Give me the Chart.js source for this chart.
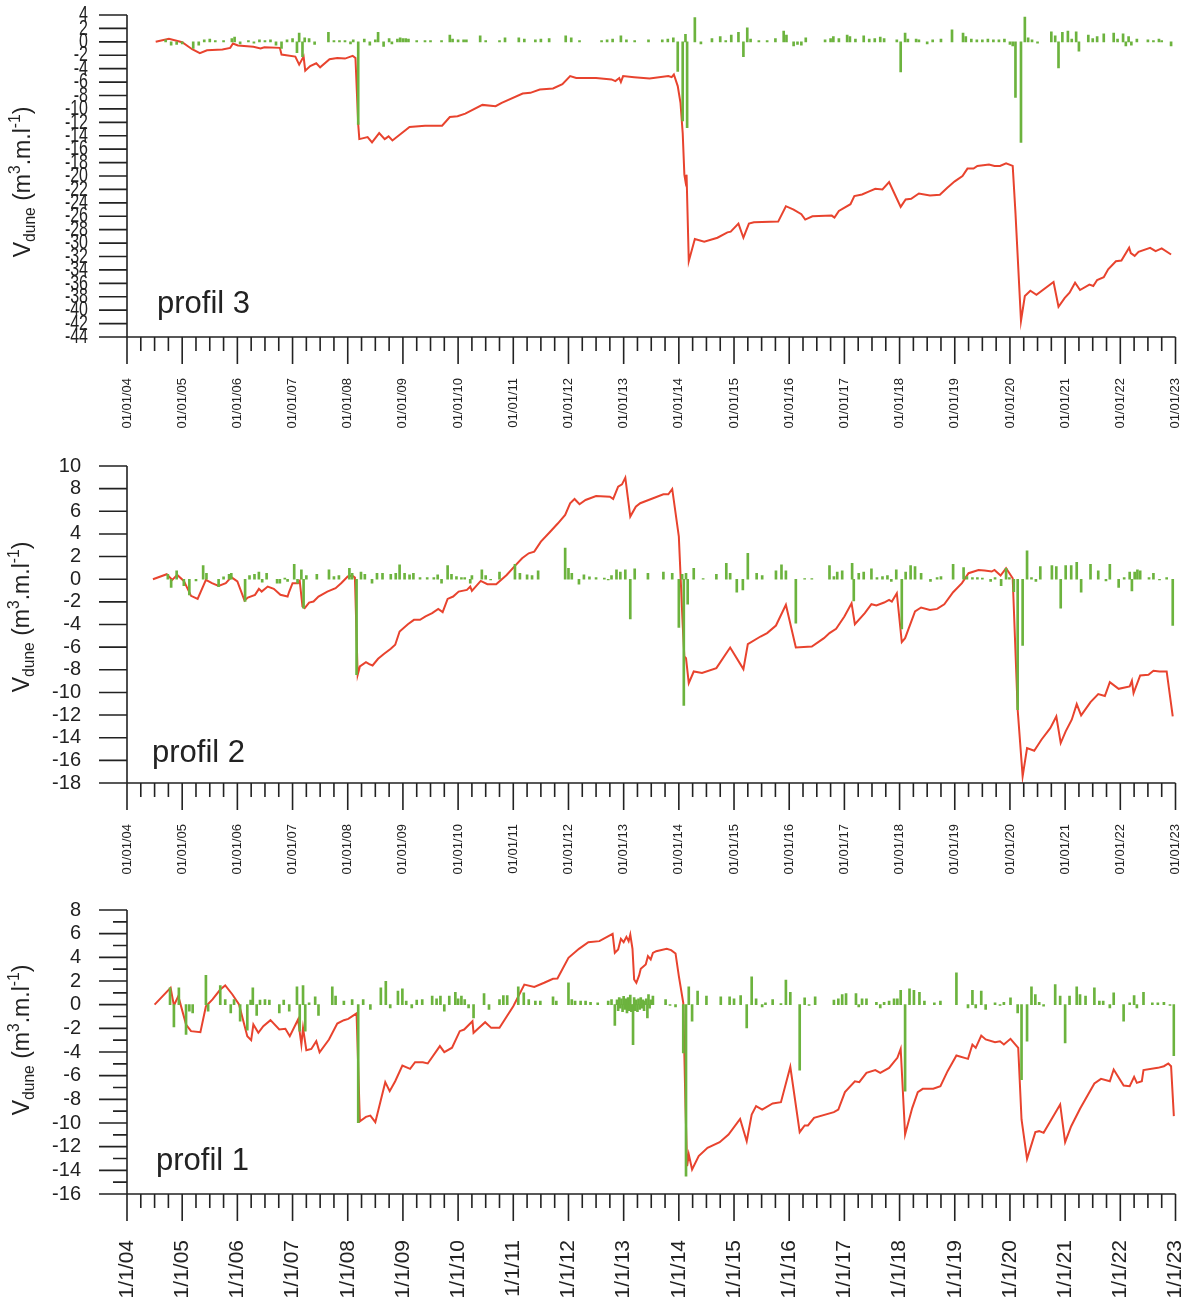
<!DOCTYPE html>
<html><head><meta charset="utf-8">
<script src="https://cdn.jsdelivr.net/npm/chart.js@4.4.1/dist/chart.umd.min.js"></script>
<style>
html,body{margin:0;padding:0;background:#fff;}
#wrap{position:relative;width:1192px;height:1304px;overflow:hidden;background:#fff;}
canvas{position:absolute;left:0;}
</style></head><body>
<div id="wrap">
<canvas id="c3" width="1192" height="440" style="top:0px"></canvas>
<canvas id="c2" width="1192" height="440" style="top:445px"></canvas>
<canvas id="c1" width="1192" height="414" style="top:890px"></canvas>
</div>
<script>
// ---------- axis ticks / labels ----------
const tickYears = [2004,2005,2006,2007,2008,2009,2010,2011,2012,2013,2014,2015,2016,2017,2018,2019,2020,2021,2022,2023];
const xLabelsLong = ['01/01/04','01/01/05','01/01/06','01/01/07','01/01/08','01/01/09','01/01/10','01/01/11','01/01/12','01/01/13','01/01/14','01/01/15','01/01/16','01/01/17','01/01/18','01/01/19','01/01/20','01/01/21','01/01/22','01/01/23'];
const xLabelsShort = ['1/1/04','1/1/05','1/1/06','1/1/07','1/1/08','1/1/09','1/1/10','1/1/11','1/1/12','1/1/13','1/1/14','1/1/15','1/1/16','1/1/17','1/1/18','1/1/19','1/1/20','1/1/21','1/1/22','1/1/23'];
const quarterOffsets = [0.25,0.5,0.75];
const yTicks3 = [4,2,0,-2,-4,-6,-8,-10,-12,-14,-16,-18,-20,-22,-24,-26,-28,-30,-32,-34,-36,-38,-40,-42,-44];
const yTicks2 = [10,8,6,4,2,0,-2,-4,-6,-8,-10,-12,-14,-16,-18];
const yTicks1 = [8,6,4,2,0,-2,-4,-6,-8,-10,-12,-14,-16];
const yMinor1 = [7,5,3,1,-1,-3,-5,-7,-9,-11,-13,-15];
const panelNames = ['profil 3','profil 2','profil 1'];

// ---------- profil 3 : cumulative dune volume [date (decimal year), m3/m] ----------
const p3Volume = [[2004.52,0],[2004.76,0.45],[2005.00,-0.05],[2005.18,-1.1],[2005.32,-1.7],[2005.45,-1.25],[2005.73,-1.15],[2005.87,-0.9],[2005.92,-0.25],[2006.01,-0.55],[2006.29,-0.75],[2006.42,-1.0],[2006.49,-0.8],[2006.77,-0.9],[2006.80,-1.9],[2007.05,-2.2],[2007.12,-3.4],[2007.20,-2.2],[2007.23,-4.3],[2007.32,-3.6],[2007.43,-3.2],[2007.50,-3.8],[2007.67,-2.6],[2007.81,-2.4],[2007.95,-2.5],[2008.09,-2.1],[2008.14,-2.4],[2008.19,-12.3],[2008.21,-14.5],[2008.36,-14.2],[2008.44,-15.0],[2008.57,-13.6],[2008.67,-14.5],[2008.74,-14.1],[2008.81,-14.7],[2009.12,-12.7],[2009.40,-12.5],[2009.71,-12.5],[2009.85,-11.2],[2009.99,-11.1],[2010.13,-10.7],[2010.44,-9.4],[2010.68,-9.6],[2010.79,-9.1],[2011.17,-7.7],[2011.31,-7.6],[2011.48,-7.1],[2011.72,-6.95],[2011.89,-6.3],[2012.03,-5.1],[2012.14,-5.4],[2012.50,-5.4],[2012.78,-5.6],[2012.85,-5.85],[2012.92,-5.4],[2012.95,-6.0],[2012.99,-5.1],[2013.19,-5.27],[2013.47,-5.46],[2013.81,-5.1],[2013.87,-5.27],[2013.91,-4.87],[2013.98,-6.6],[2014.03,-9.1],[2014.07,-13.6],[2014.10,-19.8],[2014.12,-20.8],[2014.14,-19.8],[2014.18,-32.7],[2014.29,-29.4],[2014.46,-29.8],[2014.70,-29.2],[2014.88,-28.4],[2014.94,-28.3],[2015.08,-27.1],[2015.17,-29.2],[2015.27,-27.1],[2015.36,-26.9],[2015.80,-26.8],[2015.94,-24.5],[2016.08,-25.0],[2016.22,-25.7],[2016.29,-26.5],[2016.42,-26.0],[2016.77,-25.9],[2016.82,-26.2],[2016.90,-25.2],[2017.11,-24.2],[2017.18,-23.0],[2017.32,-22.75],[2017.45,-22.3],[2017.56,-21.9],[2017.69,-22.0],[2017.81,-20.9],[2017.90,-22.5],[2018.02,-24.6],[2018.11,-23.5],[2018.21,-23.4],[2018.35,-22.6],[2018.55,-22.9],[2018.73,-22.8],[2018.86,-21.8],[2019.00,-20.8],[2019.14,-20.0],[2019.23,-18.9],[2019.34,-18.9],[2019.41,-18.5],[2019.62,-18.3],[2019.72,-18.5],[2019.82,-18.5],[2019.93,-18.1],[2020.05,-18.5],[2020.10,-25.5],[2020.20,-41.6],[2020.27,-37.9],[2020.37,-37.1],[2020.48,-37.7],[2020.79,-35.8],[2020.88,-39.5],[2020.99,-38.2],[2021.08,-37.4],[2021.18,-35.9],[2021.27,-37.0],[2021.44,-36.2],[2021.51,-36.4],[2021.58,-35.5],[2021.70,-35.1],[2021.78,-33.9],[2021.92,-32.7],[2022.02,-32.6],[2022.16,-30.7],[2022.19,-31.5],[2022.26,-31.9],[2022.33,-31.3],[2022.54,-30.7],[2022.64,-31.2],[2022.75,-30.8],[2022.92,-31.7]];
// profil 3 : volume change between surveys
const p3Change = [[2004.70,0.3],[2004.80,-0.5],[2004.90,-0.4],[2005.00,-0.3],[2005.20,-1.0],[2005.30,-0.5],[2005.40,0.3],[2005.50,0.4],[2005.60,0.2],[2005.75,0.2],[2005.90,0.5],[2005.95,0.7],[2006.05,-0.3],[2006.20,0.2],[2006.30,-0.2],[2006.40,0.3],[2006.50,0.2],[2006.60,0.3],[2006.70,-0.5],[2006.80,-1.0],[2006.90,0.3],[2007.00,0.5],[2007.08,-1.6],[2007.12,1.3],[2007.18,-2.2],[2007.22,0.6],[2007.30,0.5],[2007.40,-0.4],[2007.65,1.4],[2007.75,0.2],[2007.85,0.2],[2007.95,0.2],[2008.05,-0.3],[2008.10,0.3],[2008.19,-12.3],[2008.30,0.4],[2008.40,-0.5],[2008.50,0.3],[2008.55,1.4],[2008.65,-0.7],[2008.75,0.5],[2008.80,-0.3],[2008.90,0.4],[2008.95,0.6],[2009.00,0.5],[2009.05,0.5],[2009.10,0.4],[2009.25,0.2],[2009.40,0.2],[2009.50,0.2],[2009.70,0.2],[2009.85,1.0],[2009.90,0.4],[2010.00,0.3],[2010.10,0.3],[2010.15,0.3],[2010.40,0.9],[2010.50,0.2],[2010.75,0.2],[2010.85,0.6],[2011.10,0.6],[2011.20,0.4],[2011.40,0.3],[2011.50,0.4],[2011.65,0.5],[2011.95,0.9],[2012.05,0.6],[2012.20,0.2],[2012.60,0.2],[2012.70,0.3],[2012.80,0.4],[2012.95,0.9],[2013.05,0.3],[2013.20,0.2],[2013.45,0.3],[2013.70,0.3],[2013.80,0.4],[2013.90,0.6],[2013.98,-4.4],[2014.07,-11.8],[2014.12,1.1],[2014.15,-12.8],[2014.29,3.6],[2014.40,-0.3],[2014.60,0.5],[2014.75,0.8],[2014.85,0.2],[2014.95,1.0],[2015.08,1.4],[2015.17,-2.2],[2015.24,2.1],[2015.30,0.4],[2015.45,0.2],[2015.60,0.2],[2015.75,0.5],[2015.90,1.6],[2015.95,1.0],[2016.08,-0.6],[2016.15,-0.4],[2016.22,-0.5],[2016.30,0.6],[2016.65,0.3],[2016.75,0.5],[2016.80,0.8],[2016.90,0.5],[2017.05,1.0],[2017.10,0.8],[2017.20,0.4],[2017.35,0.9],[2017.45,0.4],[2017.55,0.5],[2017.65,0.7],[2017.72,0.5],[2017.95,0.3],[2018.02,-4.5],[2018.10,1.3],[2018.15,0.4],[2018.30,0.4],[2018.35,0.3],[2018.50,-0.3],[2018.60,0.3],[2018.75,0.4],[2018.95,1.8],[2019.15,1.3],[2019.20,0.8],[2019.30,0.4],[2019.40,0.3],[2019.50,0.3],[2019.60,0.4],[2019.70,0.3],[2019.80,0.3],[2019.90,0.4],[2020.00,-0.4],[2020.05,-0.6],[2020.10,-8.3],[2020.20,-15.0],[2020.27,3.7],[2020.33,0.6],[2020.40,0.3],[2020.50,-0.2],[2020.75,1.5],[2020.82,0.9],[2020.88,-3.9],[2020.95,1.4],[2021.05,1.6],[2021.12,0.4],[2021.20,1.5],[2021.25,-1.4],[2021.42,1.0],[2021.50,0.5],[2021.58,0.8],[2021.70,1.2],[2021.88,1.3],[2021.95,0.4],[2022.05,1.2],[2022.10,-0.6],[2022.15,0.8],[2022.20,-0.5],[2022.30,0.4],[2022.50,0.3],[2022.60,0.2],[2022.70,0.4],[2022.75,0.2],[2022.92,-0.6]];

// ---------- profil 2 ----------
const p2Volume = [[2004.47,0],[2004.72,0.44],[2004.82,-0.06],[2004.91,0.38],[2005.03,-0.15],[2005.16,-1.47],[2005.28,-1.74],[2005.43,-0.06],[2005.54,-0.35],[2005.66,-0.59],[2005.79,-0.35],[2005.89,0.18],[2006.00,-0.2],[2006.13,-1.88],[2006.19,-1.62],[2006.32,-1.38],[2006.39,-0.85],[2006.44,-1.09],[2006.55,-0.65],[2006.66,-0.85],[2006.78,-1.38],[2006.91,-1.53],[2006.94,-1.09],[2007.00,-0.35],[2007.10,-0.35],[2007.13,-0.15],[2007.18,-2.41],[2007.22,-2.56],[2007.30,-2.06],[2007.38,-1.97],[2007.47,-1.53],[2007.63,-1.09],[2007.78,-0.79],[2007.88,-0.35],[2008.00,0.24],[2008.08,0.32],[2008.13,0.15],[2008.18,-8.44],[2008.22,-7.7],[2008.33,-7.32],[2008.39,-7.5],[2008.45,-7.62],[2008.55,-7.03],[2008.66,-6.59],[2008.78,-6.15],[2008.86,-5.79],[2008.94,-4.62],[2009.09,-3.97],[2009.20,-3.59],[2009.31,-3.59],[2009.41,-3.29],[2009.53,-3.0],[2009.64,-2.62],[2009.72,-2.91],[2009.81,-1.74],[2009.91,-1.53],[2010.01,-1.09],[2010.16,-0.94],[2010.22,-0.65],[2010.25,-1.03],[2010.41,-0.15],[2010.53,-0.44],[2010.69,-0.44],[2010.88,0.38],[2011.03,1.18],[2011.16,1.85],[2011.28,2.29],[2011.38,2.44],[2011.50,3.32],[2011.66,4.15],[2011.81,4.94],[2011.94,5.68],[2012.03,6.71],[2012.11,7.09],[2012.20,6.62],[2012.31,7.0],[2012.50,7.35],[2012.75,7.29],[2012.81,7.09],[2012.90,8.18],[2012.97,8.38],[2013.03,8.97],[2013.12,5.53],[2013.22,6.41],[2013.30,6.71],[2013.72,7.5],[2013.81,7.5],[2013.88,7.97],[2014.00,3.76],[2014.07,-4.03],[2014.10,-6.82],[2014.13,-6.97],[2014.18,-9.18],[2014.27,-8.15],[2014.42,-8.29],[2014.68,-7.85],[2014.93,-6.03],[2015.17,-7.94],[2015.25,-5.74],[2015.48,-5.06],[2015.60,-4.76],[2015.76,-4.09],[2015.94,-2.26],[2016.12,-6.03],[2016.41,-5.94],[2016.63,-5.21],[2016.73,-4.76],[2016.85,-4.38],[2017.00,-3.29],[2017.13,-2.12],[2017.19,-3.97],[2017.37,-3.0],[2017.49,-2.21],[2017.58,-2.32],[2017.72,-2.06],[2017.81,-1.82],[2017.86,-1.97],[2017.95,-1.24],[2018.04,-5.56],[2018.10,-5.21],[2018.28,-2.85],[2018.39,-2.5],[2018.55,-2.71],[2018.68,-2.62],[2018.81,-2.21],[2018.97,-1.15],[2019.13,-0.35],[2019.25,0.53],[2019.43,0.82],[2019.54,0.76],[2019.67,0.68],[2019.72,0.82],[2019.83,0.32],[2019.93,0.97],[2020.05,0.09],[2020.14,-11.53],[2020.23,-17.41],[2020.31,-14.91],[2020.44,-15.15],[2020.57,-14.18],[2020.73,-13.15],[2020.84,-12.12],[2020.92,-14.47],[2021.01,-13.44],[2021.12,-12.41],[2021.21,-11.03],[2021.29,-12.03],[2021.46,-10.85],[2021.60,-10.15],[2021.72,-10.32],[2021.81,-9.09],[2021.97,-9.68],[2022.17,-9.47],[2022.21,-8.97],[2022.24,-10.06],[2022.36,-8.5],[2022.51,-8.44],[2022.60,-8.09],[2022.71,-8.15],[2022.84,-8.15],[2022.95,-12.12]];
const p2Change = [[2004.74,0.44],[2004.80,-0.73],[2004.90,0.73],[2005.03,-0.56],[2005.13,-1.38],[2005.25,-0.15],[2005.38,1.21],[2005.44,0.53],[2005.66,-0.65],[2005.75,0.2],[2005.85,0.44],[2005.89,0.53],[2006.14,-1.97],[2006.22,0.32],[2006.31,0.44],[2006.39,0.62],[2006.45,-0.26],[2006.53,0.53],[2006.72,-0.35],[2006.77,-0.35],[2006.86,0.1],[2006.91,-0.2],[2007.03,1.32],[2007.09,-0.35],[2007.16,0.82],[2007.20,-2.56],[2007.25,0.32],[2007.44,0.44],[2007.66,0.82],[2007.75,0.24],[2007.84,0.32],[2008.03,0.97],[2008.08,0.53],[2008.16,-8.44],[2008.24,0.62],[2008.31,0.44],[2008.44,-0.35],[2008.53,0.53],[2008.63,0.53],[2008.78,0.44],[2008.87,0.53],[2008.94,1.26],[2009.03,0.53],[2009.12,0.38],[2009.19,0.53],[2009.31,0.15],[2009.44,0.15],[2009.56,0.15],[2009.63,0.38],[2009.70,-0.35],[2009.81,1.21],[2009.88,0.44],[2009.97,0.24],[2010.06,0.15],[2010.12,0.15],[2010.22,-0.35],[2010.25,0.32],[2010.43,0.82],[2010.50,0.32],[2010.59,-0.06],[2010.75,0.62],[2011.03,1.32],[2011.12,0.53],[2011.25,0.38],[2011.34,0.32],[2011.45,0.73],[2011.94,2.74],[2012.00,0.97],[2012.06,0.53],[2012.19,-0.44],[2012.28,0.38],[2012.38,0.2],[2012.50,0.15],[2012.65,0.1],[2012.72,-0.06],[2012.78,0.32],[2012.87,0.82],[2012.94,0.62],[2013.03,0.82],[2013.12,-3.5],[2013.20,0.91],[2013.44,0.53],[2013.72,0.62],[2013.88,0.53],[2014.00,-4.26],[2014.06,0.44],[2014.09,-11.15],[2014.13,0.53],[2014.16,-2.21],[2014.27,0.97],[2014.44,0.05],[2014.68,0.44],[2014.86,1.41],[2014.93,0.53],[2015.05,-1.15],[2015.16,-0.94],[2015.25,2.29],[2015.41,0.53],[2015.51,0.32],[2015.76,0.73],[2015.86,1.26],[2015.94,0.73],[2016.12,-3.88],[2016.28,0.05],[2016.41,0.05],[2016.73,1.21],[2016.81,0.24],[2016.87,0.62],[2016.96,0.73],[2017.14,1.41],[2017.17,-1.91],[2017.26,0.53],[2017.35,0.62],[2017.49,0.91],[2017.59,0.15],[2017.69,0.24],[2017.78,0.32],[2017.85,-0.2],[2017.94,0.82],[2018.04,-4.38],[2018.11,0.62],[2018.20,1.21],[2018.28,1.12],[2018.39,0.53],[2018.56,-0.2],[2018.68,0.15],[2018.75,0.24],[2018.97,1.32],[2019.16,1.03],[2019.22,0.24],[2019.32,0.15],[2019.41,0.15],[2019.50,0.1],[2019.65,-0.2],[2019.73,0.15],[2019.84,-0.56],[2019.93,0.97],[2019.99,0.15],[2020.07,-1.09],[2020.14,-11.53],[2020.23,-5.85],[2020.31,2.5],[2020.39,0.15],[2020.47,-0.2],[2020.55,1.12],[2020.76,1.21],[2020.84,1.12],[2020.92,-2.56],[2021.01,1.21],[2021.11,1.21],[2021.21,1.5],[2021.29,-1.15],[2021.46,1.32],[2021.60,0.73],[2021.74,-0.15],[2021.81,1.32],[2021.97,-0.73],[2022.07,0.15],[2022.17,0.62],[2022.21,-1.03],[2022.26,0.62],[2022.31,0.82],[2022.36,0.73],[2022.52,0.15],[2022.60,0.53],[2022.71,-0.06],[2022.84,0.15],[2022.95,-4.09]];

// ---------- profil 1 ----------
const p1Volume = [[2004.50,0],[2004.79,1.42],[2004.85,-0.07],[2004.93,0.72],[2005.07,-1.68],[2005.16,-2.24],[2005.33,-2.33],[2005.43,-0.13],[2005.55,0.44],[2005.69,1.28],[2005.78,1.62],[2005.91,0.86],[2006.03,0.02],[2006.18,-2.66],[2006.25,-3.0],[2006.29,-1.68],[2006.38,-2.38],[2006.47,-1.82],[2006.60,-1.31],[2006.76,-2.1],[2006.87,-2.04],[2006.95,-2.66],[2007.10,-1.25],[2007.16,-3.37],[2007.19,-1.96],[2007.25,-3.85],[2007.34,-3.74],[2007.43,-3.09],[2007.49,-4.02],[2007.66,-2.95],[2007.81,-1.6],[2007.93,-1.31],[2008.01,-1.2],[2008.16,-0.74],[2008.22,-9.85],[2008.33,-9.48],[2008.41,-9.37],[2008.50,-9.93],[2008.68,-6.55],[2008.76,-7.31],[2008.86,-6.47],[2008.99,-5.14],[2009.13,-5.42],[2009.22,-4.86],[2009.36,-4.86],[2009.45,-4.97],[2009.67,-3.5],[2009.75,-4.01],[2009.89,-3.64],[2010.03,-2.24],[2010.11,-2.1],[2010.26,-1.4],[2010.28,-2.38],[2010.38,-1.96],[2010.49,-1.48],[2010.60,-1.96],[2010.75,-1.96],[2011.00,-0.13],[2011.20,1.7],[2011.38,1.5],[2011.56,1.85],[2011.72,2.19],[2011.80,2.21],[2012.00,3.96],[2012.19,4.72],[2012.36,5.28],[2012.56,5.37],[2012.80,5.99],[2012.84,4.38],[2012.90,4.66],[2012.95,5.56],[2013.00,5.28],[2013.05,5.73],[2013.09,5.37],[2013.12,5.93],[2013.16,4.72],[2013.19,2.13],[2013.23,1.85],[2013.28,2.47],[2013.31,3.03],[2013.40,3.4],[2013.44,4.1],[2013.49,3.82],[2013.53,4.38],[2013.59,4.52],[2013.78,4.72],[2013.86,4.61],[2013.94,4.33],[2014.00,2.41],[2014.08,0.16],[2014.12,-8.57],[2014.15,-13.65],[2014.18,-12.66],[2014.24,-13.93],[2014.36,-12.8],[2014.52,-12.1],[2014.74,-11.62],[2014.90,-10.97],[2015.11,-9.65],[2015.23,-11.54],[2015.32,-9.28],[2015.40,-8.57],[2015.51,-8.86],[2015.70,-8.35],[2015.85,-8.24],[2016.02,-5.25],[2016.19,-10.77],[2016.28,-10.21],[2016.34,-10.21],[2016.45,-9.56],[2016.81,-9.08],[2016.89,-8.86],[2017.01,-7.39],[2017.19,-6.47],[2017.27,-6.55],[2017.40,-5.76],[2017.56,-5.53],[2017.65,-5.76],[2017.81,-5.34],[2017.91,-4.78],[2017.96,-4.49],[2018.02,-3.73],[2018.10,-10.97],[2018.23,-8.72],[2018.33,-7.39],[2018.42,-7.11],[2018.61,-7.11],[2018.74,-6.89],[2018.87,-5.62],[2019.03,-4.3],[2019.24,-4.58],[2019.32,-3.37],[2019.38,-3.65],[2019.48,-2.61],[2019.56,-2.94],[2019.73,-3.17],[2019.82,-3.09],[2019.89,-3.37],[2020.01,-2.89],[2020.15,-3.65],[2020.21,-9.7],[2020.31,-13.03],[2020.46,-10.77],[2020.53,-10.69],[2020.61,-10.83],[2020.91,-8.43],[2021.00,-11.62],[2021.11,-10.27],[2021.27,-8.8],[2021.53,-6.66],[2021.65,-6.27],[2021.81,-6.47],[2021.88,-5.48],[2022.06,-6.83],[2022.17,-6.89],[2022.25,-6.1],[2022.30,-6.61],[2022.39,-6.47],[2022.42,-5.53],[2022.68,-5.34],[2022.79,-5.2],[2022.87,-4.97],[2022.92,-5.2],[2022.97,-9.42]];
const p1Change = [[2004.78,1.42],[2004.85,-1.88],[2004.94,1.42],[2005.07,-2.52],[2005.13,-0.55],[2005.19,-0.69],[2005.43,2.47],[2005.47,-0.55],[2005.69,1.62],[2005.78,0.44],[2005.88,-0.69],[2005.94,0.44],[2006.05,-1.39],[2006.18,-2.15],[2006.24,0.38],[2006.28,1.42],[2006.35,-0.91],[2006.41,0.38],[2006.50,0.44],[2006.58,0.38],[2006.76,-0.69],[2006.84,0.38],[2006.94,-0.55],[2007.08,1.5],[2007.13,-2.24],[2007.19,1.62],[2007.23,-2.24],[2007.30,0.16],[2007.41,0.66],[2007.47,-0.91],[2007.72,1.5],[2007.78,0.72],[2007.93,0.3],[2008.08,0.44],[2008.19,-9.98],[2008.28,0.44],[2008.41,-0.41],[2008.60,1.42],[2008.69,1.98],[2008.77,-0.27],[2008.91,1.14],[2008.99,1.33],[2009.06,0.3],[2009.16,-0.27],[2009.25,0.38],[2009.35,0.44],[2009.53,0.72],[2009.61,0.5],[2009.68,0.72],[2009.75,-0.55],[2009.84,0.72],[2009.95,1.05],[2010.00,0.5],[2010.06,0.72],[2010.12,0.44],[2010.19,-0.27],[2010.28,-1.11],[2010.47,0.94],[2010.56,-0.41],[2010.75,0.44],[2010.82,0.77],[2010.89,0.77],[2011.09,1.5],[2011.19,1.0],[2011.28,0.44],[2011.40,0.3],[2011.49,0.3],[2011.72,0.66],[2011.78,0.3],[2012.00,1.84],[2012.06,0.44],[2012.12,0.3],[2012.22,0.3],[2012.31,0.3],[2012.40,0.2],[2012.53,0.16],[2012.72,0.3],[2012.78,0.44],[2012.84,-1.76],[2012.88,0.4],[2012.90,-0.5],[2012.92,0.6],[2012.94,-0.3],[2012.96,0.5],[2012.98,-0.6],[2013.00,0.7],[2013.02,-0.4],[2013.04,0.5],[2013.06,-0.7],[2013.08,0.6],[2013.10,-0.5],[2013.12,0.8],[2013.14,-0.6],[2013.17,-3.37],[2013.19,0.6],[2013.21,-0.5],[2013.23,0.4],[2013.25,-0.6],[2013.27,0.5],[2013.29,-0.4],[2013.31,0.6],[2013.33,-0.3],[2013.35,0.4],[2013.37,-0.5],[2013.39,0.3],[2013.41,0.5],[2013.43,-1.11],[2013.45,0.86],[2013.47,-0.3],[2013.49,0.4],[2013.53,0.72],[2013.76,0.44],[2013.84,-0.07],[2013.94,-0.18],[2014.08,-4.07],[2014.13,-14.5],[2014.18,1.5],[2014.24,-1.39],[2014.34,1.14],[2014.50,0.72],[2014.76,0.66],[2014.92,0.66],[2015.00,0.5],[2015.12,0.77],[2015.23,-1.96],[2015.32,2.35],[2015.40,0.5],[2015.51,-0.18],[2015.57,0.16],[2015.70,0.44],[2015.85,0.1],[2015.94,2.07],[2016.02,1.05],[2016.19,-5.53],[2016.28,0.58],[2016.36,-0.07],[2016.47,0.66],[2016.81,0.38],[2016.89,0.5],[2016.96,0.86],[2017.03,0.94],[2017.21,0.94],[2017.26,-0.18],[2017.32,0.5],[2017.40,0.5],[2017.58,0.2],[2017.65,-0.27],[2017.72,0.2],[2017.81,0.3],[2017.90,0.5],[2017.96,0.5],[2018.02,1.22],[2018.10,-7.31],[2018.18,1.33],[2018.26,1.22],[2018.36,1.05],[2018.45,0.3],[2018.63,0.16],[2018.74,0.3],[2019.03,2.69],[2019.24,-0.27],[2019.32,1.22],[2019.38,-0.27],[2019.48,1.14],[2019.56,-0.41],[2019.73,0.16],[2019.82,-0.07],[2019.89,0.2],[2020.01,0.58],[2020.14,-0.69],[2020.21,-6.33],[2020.31,-3.09],[2020.39,1.5],[2020.46,0.86],[2020.53,0.2],[2020.61,-0.12],[2020.82,1.7],[2020.91,0.72],[2021.00,-3.23],[2021.08,0.72],[2021.21,1.5],[2021.27,0.86],[2021.37,0.72],[2021.53,1.42],[2021.62,0.3],[2021.69,0.3],[2021.81,-0.27],[2021.88,1.0],[2022.06,-1.39],[2022.17,0.16],[2022.25,0.77],[2022.30,-0.27],[2022.42,1.05],[2022.58,0.16],[2022.68,0.16],[2022.79,0.2],[2022.90,-0.07],[2022.97,-4.3]];

// ---------- rendering ----------
const FONT = "'Liberation Sans', Arial, Helvetica, sans-serif";
const RED = '#e8432e', GREEN = '#6cb33e', INK = '#222222';

const quarterTicks = [];
for (const yr of tickYears.slice(0, -1)) for (const q of quarterOffsets) quarterTicks.push(yr + q);

const decor = {
  id: 'decor',
  afterDraw(chart, args, o) {
    const {ctx, chartArea: a, scales: {x, y}} = chart;
    ctx.save();
    ctx.strokeStyle = INK; ctx.lineWidth = 1.6; ctx.lineCap = 'butt';
    ctx.beginPath();
    ctx.moveTo(a.left, a.top); ctx.lineTo(a.left, a.bottom);
    ctx.moveTo(a.left - 28, a.bottom); ctx.lineTo(a.right, a.bottom);
    for (const v of tickYears) { const px = x.getPixelForValue(v); ctx.moveTo(px, a.bottom); ctx.lineTo(px, a.bottom + 27); }
    for (const v of quarterTicks) { const px = x.getPixelForValue(v); ctx.moveTo(px, a.bottom); ctx.lineTo(px, a.bottom + 14); }
    for (const v of o.yMajor) { const py = y.getPixelForValue(v); ctx.moveTo(a.left - 28, py); ctx.lineTo(a.left, py); }
    for (const v of (o.yMinor || [])) { const py = y.getPixelForValue(v); ctx.moveTo(a.left - 14, py); ctx.lineTo(a.left, py); }
    ctx.stroke();

    ctx.fillStyle = INK;
    // stretched y tick labels (profil 3 only)
    if (o.stretchLabels) {
      ctx.font = o.stretchFont + 'px ' + FONT;
      ctx.textAlign = 'right'; ctx.textBaseline = 'middle';
      for (const v of o.yMajor) {
        const py = y.getPixelForValue(v);
        ctx.save();
        ctx.translate(a.left - o.stretchPad, py);
        ctx.scale(1, o.stretchY);
        ctx.fillText(String(v), 0, 0);
        ctx.restore();
      }
    }

    // panel label
    ctx.font = '31px ' + FONT;
    ctx.textAlign = 'left'; ctx.textBaseline = 'alphabetic';
    ctx.fillText(o.name, o.nameX, o.nameY);

    // y-axis title  V_dune (m^3.m.l^-1)
    const F = 23;
    const parts = [
      {t: 'V', s: 1, dy: 0}, {t: 'dune', s: 0.68, dy: 0.22},
      {t: ' (m', s: 1, dy: 0}, {t: '3', s: 0.68, dy: -0.42},
      {t: '.m.l', s: 1, dy: 0}, {t: '-1', s: 0.68, dy: -0.42}, {t: ')', s: 1, dy: 0}
    ];
    let total = 0;
    for (const p of parts) { ctx.font = (F * p.s) + 'px ' + FONT; p.w = ctx.measureText(p.t).width; total += p.w; }
    ctx.translate(o.titleX, o.titleY);
    ctx.rotate(-Math.PI / 2);
    let cx = -total / 2;
    for (const p of parts) {
      ctx.font = (F * p.s) + 'px ' + FONT;
      ctx.fillText(p.t, cx, p.dy * F);
      cx += p.w;
    }
    ctx.restore();
  }
};

function zeroPad(s) { s.paddingLeft = 0; s.paddingRight = 0; s.paddingTop = 0; s.paddingBottom = 0; }

function makePanel(id, cfg) {
  new Chart(document.getElementById(id), {
    type: 'line',
    data: {
      datasets: [
        {type: 'bar', data: cfg.change.map(([x, y]) => ({x, y})), backgroundColor: GREEN, borderWidth: 0, barThickness: 2, order: 0},
        {type: 'line', data: cfg.volume.map(([x, y]) => ({x, y})), borderColor: RED, borderWidth: 2, pointRadius: 0, tension: 0, fill: false, order: 1}
      ]
    },
    options: {
      responsive: false, animation: false, events: [],
      layout: {padding: {top: cfg.padTop, right: 16.5, left: 0, bottom: 0}},
      plugins: {
        legend: {display: false}, tooltip: {enabled: false},
        decor: {yMajor: cfg.yTicks, yMinor: cfg.yMinor, name: cfg.name, nameX: cfg.nameX, nameY: cfg.nameY,
                titleX: cfg.titleX, titleY: cfg.titleY, stretchLabels: !!cfg.stretch,
                stretchFont: cfg.yFont, stretchPad: cfg.yPad, stretchY: cfg.stretch || 1}
      },
      scales: {
        x: {
          type: 'linear', min: 2004, max: 2023, offset: false,
          grid: {display: false, drawTicks: false}, border: {display: false},
          afterBuildTicks: s => { s.ticks = tickYears.map(v => ({value: v})); },
          afterFit: s => { s.height = cfg.xHeight; zeroPad(s); },
          ticks: {autoSkip: false, minRotation: 90, maxRotation: 90, padding: cfg.xPad, color: INK,
                  font: {family: FONT, size: cfg.xFont},
                  callback: v => cfg.xLabels[tickYears.indexOf(Math.round(v))]}
        },
        y: {
          type: 'linear', min: cfg.yTicks[cfg.yTicks.length - 1], max: cfg.yTicks[0],
          grid: {display: false, drawTicks: false}, border: {display: false},
          afterBuildTicks: s => { s.ticks = cfg.yTicks.map(v => ({value: v})); },
          afterFit: s => { s.width = 127; zeroPad(s); },
          ticks: {display: !cfg.stretch, autoSkip: false, padding: cfg.yPad, color: INK, font: {family: FONT, size: cfg.yFont},
                  callback: v => String(v)}
        }
      }
    },
    plugins: [decor]
  });
}

makePanel('c3', {volume: p3Volume, change: p3Change, yTicks: yTicks3, yMinor: [], name: panelNames[0],
  nameX: 157, nameY: 313, titleX: 30, titleY: 182, padTop: 15, xHeight: 103, xPad: 41, xFont: 13,
  xLabels: xLabelsLong, yPad: 39, yFont: 16, stretch: 1.4});
makePanel('c2', {volume: p2Volume, change: p2Change, yTicks: yTicks2, yMinor: [], name: panelNames[1],
  nameX: 152, nameY: 317, titleX: 29, titleY: 172, padTop: 21, xHeight: 102, xPad: 41, xFont: 13,
  xLabels: xLabelsLong, yPad: 46, yFont: 20});
makePanel('c1', {volume: p1Volume, change: p1Change, yTicks: yTicks1, yMinor: yMinor1, name: panelNames[2],
  nameX: 156, nameY: 280, titleX: 29, titleY: 150, padTop: 20, xHeight: 110, xPad: 46, xFont: 21,
  xLabels: xLabelsShort, yPad: 46, yFont: 20});
</script>
</body></html>
